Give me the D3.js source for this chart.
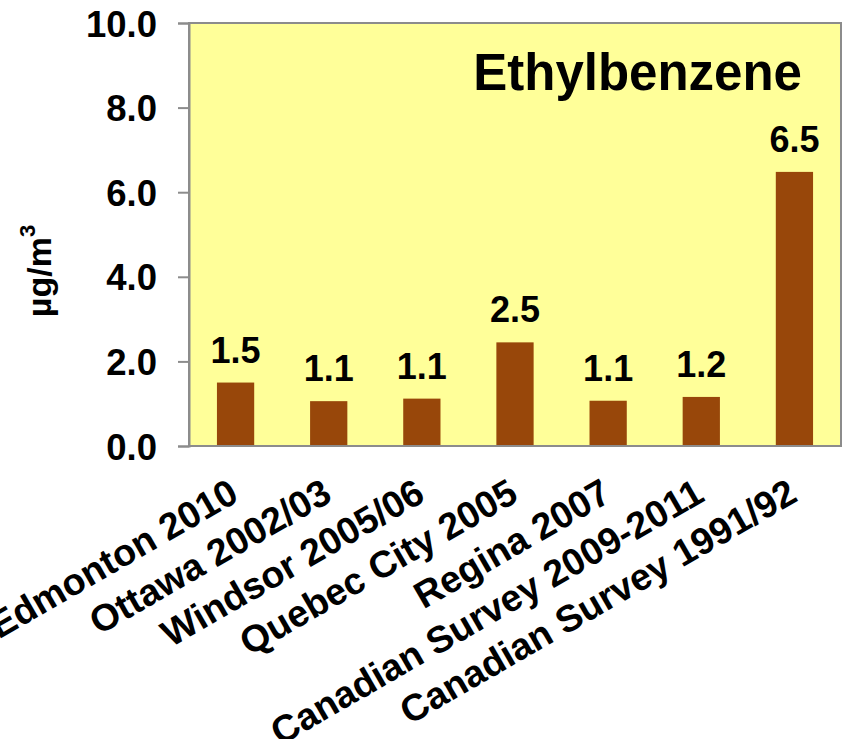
<!DOCTYPE html>
<html>
<head>
<meta charset="utf-8">
<script src="https://cdn.jsdelivr.net/npm/d3@7/dist/d3.min.js"></script>
<style>
  html, body { margin: 0; padding: 0; background: #ffffff; }
  svg { display: block; font-family: "Liberation Sans", Arial, sans-serif; font-weight: bold; }
</style>
</head>
<body>
<svg id="chart" width="846" height="739"></svg>
<script>
// Ethylbenzene concentrations by study (µg/m³)
const categories = [
  "Edmonton 2010",
  "Ottawa 2002/03",
  "Windsor 2005/06",
  "Quebec City 2005",
  "Regina 2007",
  "Canadian Survey 2009-2011",
  "Canadian Survey 1991/92"
];
const values = [1.50, 1.06, 1.12, 2.45, 1.07, 1.16, 6.48];
const yTicks = [0, 2, 4, 6, 8, 10];
const chartTitle = "Ethylbenzene";

const svg = d3.select("#chart");
const plot = { left: 189, right: 841, top: 23, bottom: 446 };

const x = d3.scaleBand()
  .domain(categories)
  .range([plot.left, plot.right])
  .paddingInner(0.6)
  .paddingOuter(0.3);

const y = d3.scaleLinear()
  .domain([0, 10])
  .range([plot.bottom, plot.top]);

const fmt = d3.format(".1f");

// plot background
svg.append("rect")
  .attr("x", plot.left).attr("y", plot.top)
  .attr("width", plot.right - plot.left)
  .attr("height", plot.bottom - plot.top)
  .attr("fill", "#FFFF99")
  .attr("stroke", "#8c8c8c")
  .attr("stroke-width", 2);

// y axis
const yAxis = d3.axisLeft(y)
  .tickValues(yTicks)
  .tickFormat(fmt)
  .tickSize(11)
  .tickPadding(21);

const gy = svg.append("g")
  .attr("transform", `translate(${plot.left},0)`)
  .call(yAxis);
gy.select(".domain").attr("stroke", "#8c8c8c").attr("stroke-width", 2);
gy.selectAll(".tick line").attr("stroke", "#8c8c8c").attr("stroke-width", 2);
gy.selectAll(".tick text")
  .attr("fill", "#000")
  .attr("font-size", 36.5)
  .attr("font-weight", "bold")
  .attr("font-family", "'Liberation Sans', Arial, sans-serif")
  .attr("dy", "0.36em");

// bars
svg.append("g")
  .selectAll("rect")
  .data(values)
  .join("rect")
  .attr("x", (d, i) => x(categories[i]))
  .attr("y", d => y(d))
  .attr("width", x.bandwidth())
  .attr("height", d => y(0) - y(d))
  .attr("fill", "#98470A");

// value labels
svg.append("g")
  .selectAll("text")
  .data(values)
  .join("text")
  .attr("x", (d, i) => x(categories[i]) + x.bandwidth() / 2)
  .attr("y", d => y(d) - 20)
  .attr("text-anchor", "middle")
  .attr("font-size", 36)
  .attr("fill", "#000")
  .text(d => fmt(d));

// category labels, rotated
svg.append("g")
  .selectAll("text")
  .data(categories)
  .join("text")
  .attr("transform", d => `translate(${x(d) + x.bandwidth() / 2 + 5},500) rotate(-30)`)
  .attr("text-anchor", "end")
  .attr("font-size", 37.5)
  .attr("fill", "#000")
  .text(d => d);

// bottom axis line over the bars
svg.append("line")
  .attr("x1", plot.left).attr("x2", plot.right)
  .attr("y1", plot.bottom).attr("y2", plot.bottom)
  .attr("stroke", "#8c8c8c")
  .attr("stroke-width", 2);

// title inside the plot
svg.append("text")
  .attr("x", 802)
  .attr("y", 90)
  .attr("text-anchor", "end")
  .attr("font-size", 51)
  .attr("fill", "#000")
  .text(chartTitle);

// y axis title
const yt = svg.append("text")
  .attr("transform", "translate(51,271) rotate(-90)")
  .attr("text-anchor", "middle")
  .attr("font-size", 34)
  .attr("fill", "#000");
yt.append("tspan").text("µg/m");
yt.append("tspan").attr("font-size", 22).attr("dy", "-0.75em").text("3");
</script>
</body>
</html>
